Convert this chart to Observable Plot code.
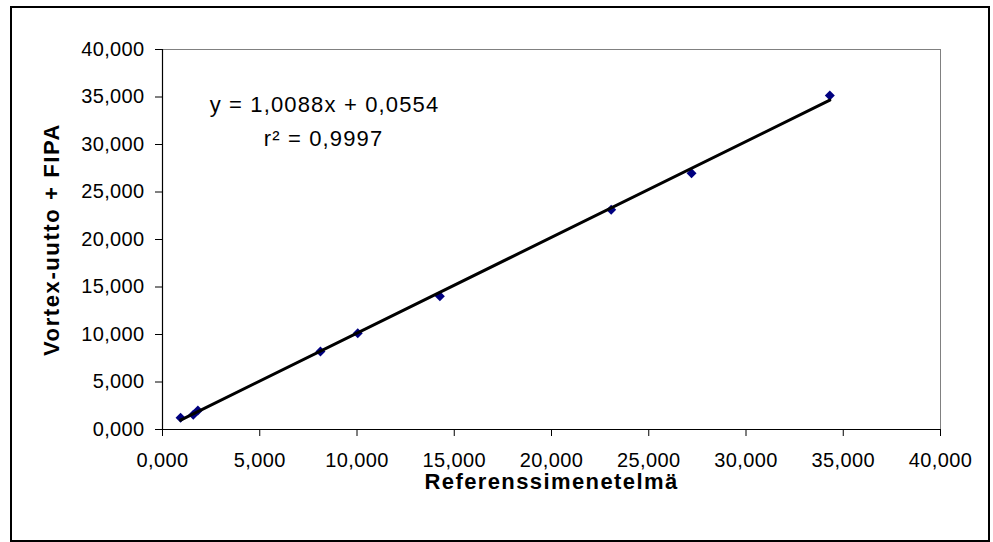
<!DOCTYPE html>
<html>
<head>
<meta charset="utf-8">
<script src="https://cdn.jsdelivr.net/npm/d3@7"></script>
<script src="https://cdn.jsdelivr.net/npm/@observablehq/plot@0.6"></script>
<style>
  html, body { margin: 0; padding: 0; background: #fff; }
</style>
</head>
<body>
<div id="chart"></div>
<script>
// Data (values in thousands, as on the axes)
const refX = [0.93, 1.58, 1.82, 8.12, 10.04, 14.26, 23.07, 27.2, 34.31];
const vortexY = [1.23, 1.55, 2.0, 8.2, 10.14, 14.03, 23.12, 26.98, 35.16];
const xTicks = [0, 5, 10, 15, 20, 25, 30, 35, 40];
const yTicks = [0, 5, 10, 15, 20, 25, 30, 35, 40];
const slope = 1.0088;
const intercept = 0.0554;
const equationLines = ["y = 1,0088x + 0,0554", "r\u00b2 = 0,9997"];
const xTitle = ["Referenssimenetelmä"];
const yTitle = ["Vortex-uutto + FIPA"];

const points = refX.map((x, i) => ({x, y: vortexY[i]}));
const xEnds = [d3.min(refX), d3.max(refX)];
const trend = xEnds.map(x => ({x, y: slope * x + intercept}));

const fmt = d3.formatLocale({decimal: ",", thousands: "\u00a0", grouping: [3], currency: ["", ""]}).format(".3f");

const chart = Plot.plot({
  width: 993,
  height: 542,
  marginLeft: 162,
  marginRight: 53,
  marginTop: 49,
  marginBottom: 113,
  style: {fontFamily: "'Liberation Sans', Arial, sans-serif", color: "#000", background: "#fff"},
  x: {domain: [0, 40]},
  y: {domain: [0, 40]},
  marks: [
    Plot.frame({stroke: "#808080"}),
    Plot.ruleX([0], {stroke: "#000", strokeWidth: 1.2}),
    Plot.ruleY([0], {stroke: "#000", strokeWidth: 1.2}),
    Plot.axisX({ticks: xTicks, tickSize: 7, tickPadding: 16, tickFormat: fmt, fontSize: 20, label: null}),
    Plot.axisY({ticks: yTicks, tickSize: 7, tickPadding: 11, tickFormat: fmt, fontSize: 20, label: null}),
    Plot.dot(points, {x: "x", y: "y", symbol: "diamond2", r: 4.5, fill: "#000080", stroke: "none"}),
    Plot.line(trend, {x: "x", y: "y", stroke: "#000", strokeWidth: 3}),
    Plot.text([equationLines[0]], {text: d => d, frameAnchor: "top-left", dx: 162, dy: 55, textAnchor: "middle", lineAnchor: "middle", fontSize: 22, fill: "#000"}),
    Plot.text([equationLines[1]], {text: d => d, frameAnchor: "top-left", dx: 161, dy: 89, textAnchor: "middle", lineAnchor: "middle", fontSize: 22, fill: "#000"}),
    Plot.text(xTitle, {text: d => d, frameAnchor: "bottom", dy: 52, textAnchor: "middle", lineAnchor: "middle", fontSize: 22, fontWeight: "bold", fill: "#000"}),
    Plot.text(yTitle, {text: d => d, frameAnchor: "left", dx: -111, rotate: -90, textAnchor: "middle", lineAnchor: "middle", fontSize: 22, fontWeight: "bold", fill: "#000"})
  ]
});

// letter spacing to mimic the wider rendering of the original
const svg = d3.select(chart);
svg.selectAll("text").each(function () {
  const t = this.textContent;
  let ls = null;
  if (/^\d+,\d{3}$/.test(t)) ls = 0.35;
  else if (equationLines.includes(t)) ls = 1.15;
  else if (t === xTitle[0]) ls = 1.4;
  else if (t === yTitle[0]) ls = 1.6;
  if (ls !== null) d3.select(this).style("letter-spacing", ls + "px");
});

svg.append("rect")
  .attr("x", 11).attr("y", 7).attr("width", 978).attr("height", 534)
  .attr("fill", "none").attr("stroke", "#000").attr("stroke-width", 2);

document.getElementById("chart").appendChild(chart);
</script>
</body>
</html>
